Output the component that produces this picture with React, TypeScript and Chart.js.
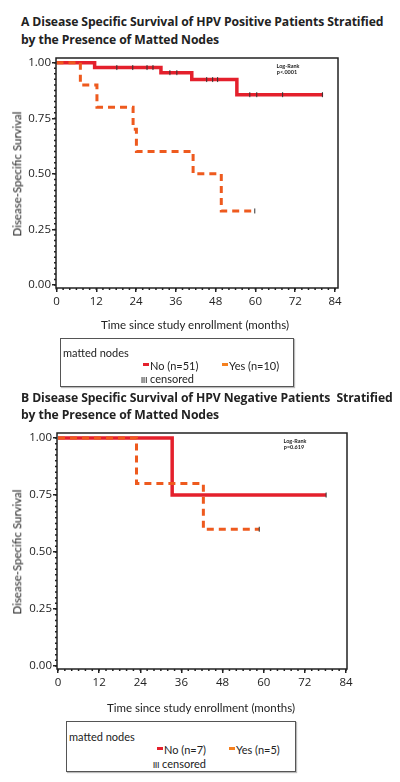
import React, { useEffect, useRef } from "react";
import { Chart, registerables } from "chart.js";
Chart.register(...registerables);

// ---- data ----
const TIME_TICKS = [0, 12, 24, 36, 48, 60, 72, 84];
const SURV_TICKS = [0, 0.25, 0.5, 0.75, 1];

const A_NO_TIME = [0, 11.5, 31.5, 40.8, 54.4, 80.4];
const A_NO_SURV = [1, 0.978, 0.955, 0.924, 0.856, 0.856];
const A_YES_TIME = [0, 7.2, 12.2, 23.1, 24.1, 41.2, 49.7, 59.8];
const A_YES_SURV = [1, 0.9, 0.8, 0.7, 0.6, 0.5, 0.333, 0.333];
const A_NO_CENSOR = [18.2, 23.0, 27.3, 29.1, 34.2, 36.3, 45.3, 47.1, 48.6, 58.3, 60.4, 68.2, 80.2];
const A_YES_CENSOR = [59.8];

const B_NO_TIME = [0, 33.3, 78.2];
const B_NO_SURV = [1, 0.75, 0.75];
const B_YES_TIME = [0, 22.9, 42.4, 58.7];
const B_YES_SURV = [1, 0.8, 0.6, 0.6];
const B_NO_CENSOR = [78.2];
const B_YES_CENSOR = [58.7];

const RED = "#e4202c";
const ORANGE = "#ee5a1e";
const INK = "#222";
const FONT = "Lato, 'Open Sans', sans-serif";
const TICK_FONT = "'Open Sans', Lato, sans-serif";
const TITLE_FONT = "'Open Sans', Lato, sans-serif";
const TITLE_SIZE = 12.2;

function survAt(times: number[], surv: number[], t: number) {
  let s = surv[0];
  for (let i = 0; i < times.length; i++) if (times[i] <= t) s = surv[i];
  return s;
}

const framePlugin = {
  id: "frame",
  afterDraw(chart: any) {
    const { ctx, chartArea: a, scales } = chart;
    const x = scales.x, y = scales.y;
    ctx.save();
    ctx.strokeStyle = INK;
    ctx.lineWidth = 1.5;
    ctx.strokeRect(a.left, a.top, a.right - a.left, a.bottom - a.top);
    ctx.beginPath();
    for (let i = 0; i <= 40; i++) {
      const py = y.getPixelForValue(i * 0.025);
      ctx.moveTo(a.left - 2, py);
      ctx.lineTo(a.left, py);
    }
    for (let i = 0; i <= 42; i++) {
      const px = x.getPixelForValue(i * 2);
      ctx.moveTo(px, a.bottom);
      ctx.lineTo(px, a.bottom + 2);
    }
    ctx.stroke();
    ctx.restore();
  },
};

type PanelProps = {
  top: number;
  height: number;
  padTop: number;
  padRight: number;
  yWidth: number;
  xHeight: number;
  xMin: number;
  xMax: number;
  yMin: number;
  yMax: number;
  noTime: number[];
  noSurv: number[];
  yesTime: number[];
  yesSurv: number[];
  noCensor: number[];
  yesCensor: number[];
};

function Panel(p: PanelProps) {
  const ref = useRef<HTMLCanvasElement>(null);
  useEffect(() => {
    if (!ref.current) return;
    const pts = (t: number[], s: number[]) => t.map((v, i) => ({ x: v, y: s[i] }));
    const censor = [
      ...p.noCensor.map((t) => ({ x: t, y: survAt(p.noTime, p.noSurv, t) })),
      ...p.yesCensor.map((t) => ({ x: t, y: survAt(p.yesTime, p.yesSurv, t) })),
    ];
    const chart = new Chart(ref.current, {
      type: "line",
      data: {
        datasets: [
          {
            label: "censored",
            data: censor,
            showLine: false,
            pointStyle: "line",
            rotation: 90,
            pointRadius: 2.5,
            pointBorderWidth: 1,
            pointBorderColor: "#333",
            pointBackgroundColor: "#333",
            order: -1,
          } as any,
          {
            label: "Yes",
            data: pts(p.yesTime, p.yesSurv),
            stepped: "before",
            borderColor: ORANGE,
            borderWidth: 3,
            borderDash: [7, 5],
            pointRadius: 0,
            fill: false,
            order: 0,
          },
          {
            label: "No",
            data: pts(p.noTime, p.noSurv),
            stepped: "before",
            borderColor: RED,
            borderWidth: 3.5,
            pointRadius: 0,
            fill: false,
            order: 1,
          },
        ],
      },
      options: {
        responsive: false,
        animation: false,
        layout: { padding: { top: p.padTop, right: p.padRight, left: 0, bottom: 0 } },
        plugins: { legend: { display: false }, tooltip: { enabled: false }, title: { display: false } },
        scales: {
          x: {
            type: "linear",
            min: p.xMin,
            max: p.xMax,
            afterBuildTicks: (s: any) => {
              s.ticks = TIME_TICKS.map((v) => ({ value: v }));
            },
            afterFit: (s: any) => {
              s.height = p.xHeight;
            },
            ticks: {
              color: INK,
              font: { family: TICK_FONT, size: 11.5 },
              padding: 3,
              maxRotation: 0,
              autoSkip: false,
              callback: (v: any) => String(v),
            },
            grid: { drawOnChartArea: false, tickLength: 4, color: INK, lineWidth: 1.5 },
            border: { display: false },
          },
          y: {
            type: "linear",
            min: p.yMin,
            max: p.yMax,
            afterBuildTicks: (s: any) => {
              s.ticks = SURV_TICKS.map((v) => ({ value: v }));
            },
            afterFit: (s: any) => {
              s.width = p.yWidth;
            },
            ticks: {
              color: INK,
              font: { family: TICK_FONT, size: 11.5 },
              padding: 1,
              autoSkip: false,
              callback: (v: any) => Number(v).toFixed(2),
            },
            grid: { drawOnChartArea: false, tickLength: 4, color: INK, lineWidth: 1.5 },
            border: { display: false },
          },
        },
      },
      plugins: [framePlugin],
    } as any);
    return () => chart.destroy();
  }, []);
  return (
    <canvas
      ref={ref}
      width={400}
      height={p.height}
      style={{ position: "absolute", left: 0, top: p.top, width: 400, height: p.height }}
    />
  );
}

function T(props: { x: number; y: number; size: number; bold?: boolean; children: any; center?: boolean; style?: any; family?: string }) {
  return (
    <div
      style={{
        position: "absolute",
        left: props.x,
        top: props.y,
        transform: props.center ? "translate(-50%,-50%)" : "translateY(-50%)",
        fontFamily: props.family || FONT,
        fontSize: props.size,
        fontWeight: props.bold ? 700 : 400,
        color: INK,
        whiteSpace: "nowrap",
        lineHeight: 1,
        ...props.style,
      }}
    >
      {props.children}
    </div>
  );
}

type LegendProps = {
  left: number;
  top: number;
  width: number;
  height: number;
  noLabel: string;
  yesLabel: string;
  noX: number;
  yesX: number;
  censX: number;
  rows: number[];
};

function Legend(props: LegendProps) {
  const { left, top, rows } = props;
  const dash = (x: number, color: string) => (
    <div style={{ position: "absolute", left: x, top: rows[1] - 2, width: 6, height: 3, background: color }} />
  );
  return (
    <div
      style={{
        position: "absolute",
        left,
        top,
        width: props.width,
        height: props.height,
        border: "1.5px solid #555",
        boxSizing: "border-box",
        boxShadow: "1px 1px 1px #bbb",
      }}
    >
      <T x={2} y={rows[0]} size={11}>matted nodes</T>
      {dash(props.noX, RED)}
      <T x={props.noX + 7} y={rows[1]} size={11}>No ({props.noLabel})</T>
      {dash(props.yesX, "#f5801f")}
      <T x={props.yesX + 7} y={rows[1]} size={11}>Yes ({props.yesLabel})</T>
      <T x={props.censX} y={rows[2]} size={11}>
        <span style={{ fontSize: 7, fontWeight: 700, color: "#333" }}>III</span> censored
      </T>
    </div>
  );
}

export default function App() {
  return (
    <div style={{ position: "absolute", left: 0, top: 0, width: 400, height: 782, background: "#fff", overflow: "hidden" }}>
      {/* Panel A */}
      <T x={21} y={22} size={TITLE_SIZE} bold family={TITLE_FONT} style={{ letterSpacing: -0.1 }}>
        A Disease Specific Survival of HPV Positive Patients Stratified
      </T>
      <T x={21} y={40} size={TITLE_SIZE} bold family={TITLE_FONT} style={{ letterSpacing: -0.1 }}>
        by the Presence of Matted Nodes
      </T>
      <Panel
        top={50}
        height={290}
        padTop={8}
        padRight={62}
        yWidth={56}
        xHeight={52}
        xMin={-0.15}
        xMax={84.9}
        yMin={-0.0135}
        yMax={1.021}
        noTime={A_NO_TIME}
        noSurv={A_NO_SURV}
        yesTime={A_YES_TIME}
        yesSurv={A_YES_SURV}
        noCensor={A_NO_CENSOR}
        yesCensor={A_YES_CENSOR}
      />
      <T x={17} y={174} size={11.5} center style={{ transform: "translate(-50%,-50%) rotate(-90deg)" }}>
        Disease-Specific Survival
      </T>
      <T x={195} y={325} size={11.5} center>Time since study enrollment (months)</T>
      <T x={288} y={67} size={5.5} bold center>Log-Rank</T>
      <T x={287} y={72.5} size={5.5} bold center>p&lt;.0001</T>
      <Legend
        left={60}
        top={338}
        width={234}
        height={49}
        noLabel="n=51"
        yesLabel="n=10"
        noX={82}
        yesX={161}
        censX={80}
        rows={[13, 26, 39]}
      />

      {/* Panel B */}
      <T x={21} y={398} size={TITLE_SIZE} bold family={TITLE_FONT} style={{ letterSpacing: -0.1 }}>
        B Disease Specific Survival of HPV Negative Patients&nbsp; Stratified
      </T>
      <T x={21} y={415} size={TITLE_SIZE} bold family={TITLE_FONT} style={{ letterSpacing: -0.1 }}>
        by the Presence of Matted Nodes
      </T>
      <Panel
        top={420}
        height={280}
        padTop={13}
        padRight={53}
        yWidth={57}
        xHeight={31}
        xMin={-0.29}
        xMax={84.29}
        yMin={-0.013}
        yMax={1.022}
        noTime={B_NO_TIME}
        noSurv={B_NO_SURV}
        yesTime={B_YES_TIME}
        yesSurv={B_YES_SURV}
        noCensor={B_NO_CENSOR}
        yesCensor={B_YES_CENSOR}
      />
      <T x={17} y={552} size={11.5} center style={{ transform: "translate(-50%,-50%) rotate(-90deg)" }}>
        Disease-Specific Survival
      </T>
      <T x={201} y={708} size={11.5} center>Time since study enrollment (months)</T>
      <T x={295} y={442} size={5.5} bold center>Log-Rank</T>
      <T x={294} y={448} size={5.5} bold center>p=0.619</T>
      <Legend
        left={66}
        top={721}
        width={230}
        height={51}
        noLabel="n=7"
        yesLabel="n=5"
        noX={90}
        yesX={162}
        censX={86}
        rows={[14, 27, 41]}
      />
    </div>
  );
}
